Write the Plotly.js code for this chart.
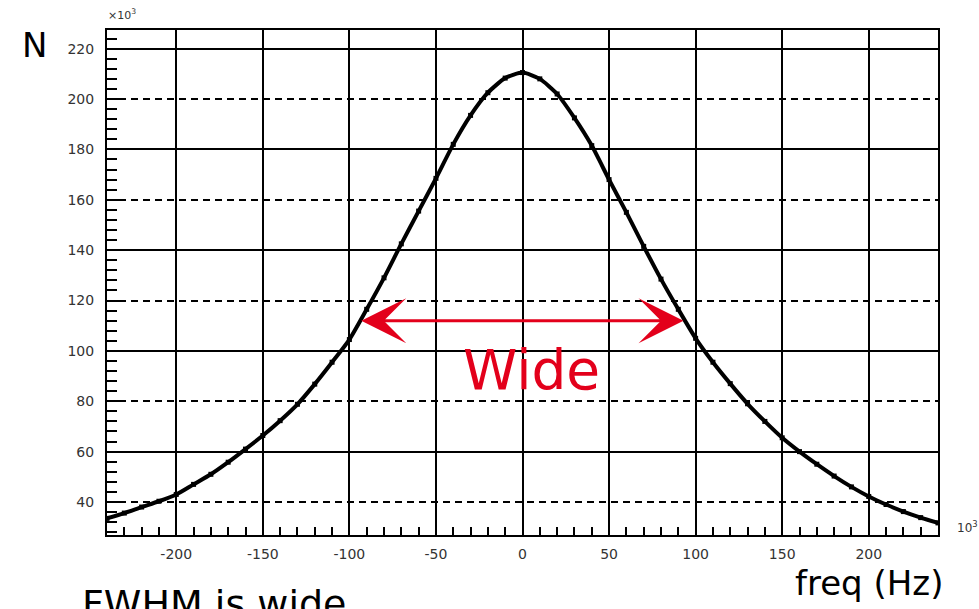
<!DOCTYPE html>
<html>
<head>
<meta charset="utf-8">
<script src="https://cdn.plot.ly/plotly-3.0.1.min.js"></script>
<style>html,body{margin:0;padding:0;background:#fff;}#chart{width:979px;height:609px;}</style>
</head>
<body>
<div id="chart"></div>
<script>
// frequency (x10^3 Hz)
const freq = [-240,-230,-220,-210,-200,-190,-180,-170,-160,-150,-140,-130,-120,-110,-100,-90,-80,-70,-60,-50,-40,-30,-20,-10,0,
              10,20,30,40,50,60,70,80,90,100,110,120,130,140,150,160,170,180,190,200,210,220,230,240];
// counts N (x10^3)
const counts = [33.5,35.6,38.0,40.3,43.0,47.0,51.0,55.8,61.0,66.4,72.3,78.8,86.8,95.5,104.5,116.5,129.0,142.5,155.5,168.5,182.0,193.5,202.5,208.3,210.5,
                208.0,202.0,192.5,181.5,168.0,155.0,141.5,128.5,116.5,105.0,95.5,87.0,79.0,72.0,65.5,60.0,55.0,50.3,46.0,42.2,39.0,36.2,33.8,31.7];
const xTicks = [-200,-150,-100,-50,0,50,100,150,200];
const xTickText = ['-200','-150','-100','-50','0','50','100','150','200'];
const yTicks = [40,60,80,100,120,140,160,180,200,220];
const ySolidGrid = [60,100,140,180,220];
// FWHM arrow (x10^3)
const halfMaxLevel = 112;
const fwhmLeft = -94, fwhmRight = 93;

const trace = {
  x: freq, y: counts, type: 'scatter', mode: 'lines+markers',
  line: {color: '#000', width: 4, shape: 'spline', smoothing: 0.6},
  marker: {symbol: 'square', size: 5, color: '#000'},
  hoverinfo: 'skip', showlegend: false
};
const ghost = {x: [freq[0]], y: [counts[0]], yaxis: 'y2', type: 'scatter', mode: 'none', showlegend: false, hoverinfo: 'skip'};

const tickFont = {family: 'DejaVu Sans, sans-serif', size: 14, color: '#333'};
const layout = {
  width: 979, height: 609,
  margin: {l: 107, r: 41, t: 30, b: 74},
  paper_bgcolor: '#fff', plot_bgcolor: '#fff',
  xaxis: {
    range: [-240, 240], tickvals: xTicks, ticktext: xTickText,
    showgrid: true, gridcolor: '#000', gridwidth: 2,
    showline: true, linecolor: '#000', linewidth: 2, mirror: true,
    ticks: 'inside', ticklen: 10, tickwidth: 2, tickcolor: '#000',
    minor: {dtick: 10, tick0: 0, ticks: 'inside', ticklen: 8, tickwidth: 2, tickcolor: '#000', showgrid: false},
    tickfont: tickFont, ticklabelstandoff: 5, zeroline: false, fixedrange: true
  },
  yaxis: {
    range: [26.9, 227.4], tickvals: yTicks,
    showgrid: true, gridcolor: '#000', gridwidth: 2, griddash: '7px,5px',
    showline: true, linecolor: '#000', linewidth: 2, mirror: true,
    ticks: 'inside', ticklen: 12, tickwidth: 2, tickcolor: '#000',
    minor: {dtick: 4, tick0: 0, ticks: 'inside', ticklen: 10, tickwidth: 2, tickcolor: '#000', showgrid: false},
    tickfont: tickFont, ticklabelstandoff: 8, zeroline: false, fixedrange: true
  },
  yaxis2: {
    overlaying: 'y', range: [26.9, 227.4], tickvals: ySolidGrid,
    showgrid: true, gridcolor: '#000', gridwidth: 2,
    showticklabels: false, ticks: '', showline: false, zeroline: false, fixedrange: true
  },
  annotations: [
    {x: fwhmRight, y: halfMaxLevel, ax: fwhmLeft, ay: halfMaxLevel, xref: 'x', yref: 'y', axref: 'x', ayref: 'y',
     text: '', showarrow: true, arrowhead: 3, startarrowhead: 3, arrowside: 'end+start',
     arrowsize: 2.5, startarrowsize: 2.5, arrowwidth: 3, arrowcolor: '#e3001b'},
    {x: 5, y: 92.5, xref: 'x', yref: 'y', text: 'Wide', showarrow: false,
     font: {family: 'DejaVu Sans, sans-serif', size: 55, color: '#e3001b'}, xanchor: 'center', yanchor: 'middle'},
    {x: -0.087, y: 0.97, xref: 'paper', yref: 'paper', text: 'N', showarrow: false,
     font: {family: 'DejaVu Sans, sans-serif', size: 34, color: '#000'}, xanchor: 'center', yanchor: 'middle'},
    {x: 0.018, y: 1.03, xref: 'paper', yref: 'paper', text: '×10<sup>3</sup>', showarrow: false,
     font: {family: 'DejaVu Sans, sans-serif', size: 11, color: '#333'}, xanchor: 'center', yanchor: 'middle'},
    {x: 1.035, y: 0.016, xref: 'paper', yref: 'paper', text: '10<sup>3</sup>', showarrow: false,
     font: {family: 'DejaVu Sans, sans-serif', size: 12, color: '#333'}, xanchor: 'center', yanchor: 'middle'},
    {x: 1.008, y: -0.095, xref: 'paper', yref: 'paper', text: 'freq (Hz)', showarrow: false,
     font: {family: 'DejaVu Sans, sans-serif', size: 34, color: '#000'}, xanchor: 'right', yanchor: 'middle'},
    {x: -0.033, y: -0.09, xref: 'paper', yref: 'paper', text: 'FWHM is wide', showarrow: false,
     font: {family: 'DejaVu Sans, sans-serif', size: 38, color: '#000'}, xanchor: 'left', yanchor: 'top'}
  ]
};
Plotly.newPlot('chart', [trace, ghost], layout, {displayModeBar: false, staticPlot: true});
</script>
</body>
</html>
